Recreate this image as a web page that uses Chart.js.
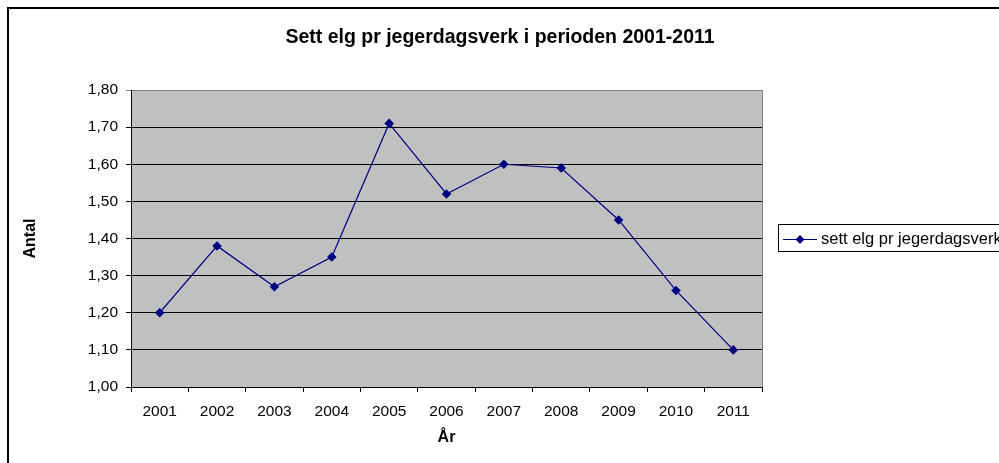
<!DOCTYPE html>
<html>
<head>
<meta charset="utf-8">
<script src="https://cdn.jsdelivr.net/npm/chart.js@4"></script>
<style>
html,body{margin:0;padding:0;background:#fff;}
#c{display:block;}
</style>
</head>
<body>
<canvas id="c" width="999" height="463"></canvas>
<script>
const categories = ['2001','2002','2003','2004','2005','2006','2007','2008','2009','2010','2011'];
const seriesLabel = 'sett elg pr jegerdagsverk';
const seriesValues = [1.20, 1.38, 1.27, 1.35, 1.71, 1.52, 1.60, 1.59, 1.45, 1.26, 1.10];
const chartTitle = 'Sett elg pr jegerdagsverk i perioden 2001-2011';
const xTitle = 'År';
const yTitle = 'Antal';
const yMin = 1.0, yMax = 1.8, yStep = 0.1;

const FONT = '"Liberation Sans", Arial, sans-serif';
const NAVY = '#000080';

const decor = {
  id: 'decor',
  beforeDraw(chart) {
    const {ctx, chartArea: a} = chart;
    ctx.save();
    ctx.fillStyle = '#fff';
    ctx.fillRect(0, 0, chart.width, chart.height);
    ctx.fillStyle = '#C0C0C0';
    ctx.fillRect(a.left, a.top, a.right - a.left, a.bottom - a.top);
    ctx.strokeStyle = '#000';
    ctx.lineWidth = 2;
    ctx.strokeRect(8, 8, chart.width + 20, chart.height + 20);
    ctx.fillStyle = '#000';
    ctx.font = 'bold 19.5px ' + FONT;
    ctx.textAlign = 'center';
    ctx.textBaseline = 'middle';
    ctx.fillText(chartTitle, 500, 38);
    ctx.restore();
  },
  afterDraw(chart) {
    const {ctx, chartArea: a} = chart;
    ctx.save();
    ctx.strokeStyle = '#808080';
    ctx.lineWidth = 1;
    ctx.beginPath();
    ctx.moveTo(Math.round(a.right) + 0.5, a.top);
    ctx.lineTo(Math.round(a.right) + 0.5, a.bottom);
    ctx.stroke();
    const lx = 778.5, ly = 224.5, lh = 27;
    ctx.strokeStyle = '#000';
    ctx.strokeRect(lx, ly, 300, lh);
    const cy = 239.5;
    ctx.strokeStyle = NAVY;
    ctx.beginPath();
    ctx.moveTo(783, cy);
    ctx.lineTo(817, cy);
    ctx.stroke();
    ctx.fillStyle = NAVY;
    ctx.beginPath();
    ctx.moveTo(800, cy - 4.5);
    ctx.lineTo(804.5, cy);
    ctx.lineTo(800, cy + 4.5);
    ctx.lineTo(795.5, cy);
    ctx.closePath();
    ctx.fill();
    ctx.fillStyle = '#000';
    ctx.font = '16.5px ' + FONT;
    ctx.textBaseline = 'middle';
    ctx.textAlign = 'left';
    ctx.fillText(chart.data.datasets[0].label, 821, cy);
    ctx.restore();
  }
};

new Chart(document.getElementById('c'), {
  type: 'line',
  data: {
    labels: categories,
    datasets: [{
      label: seriesLabel,
      data: seriesValues,
      borderColor: NAVY,
      backgroundColor: NAVY,
      borderWidth: 1.2,
      pointStyle: 'rectRot',
      pointRadius: 4.8,
      pointHoverRadius: 4.8,
      pointBorderWidth: 0,
      tension: 0
    }]
  },
  options: {
    responsive: false,
    animation: false,
    events: [],
    layout: { padding: { left: 0, right: 237, top: 90, bottom: 0 } },
    plugins: {
      legend: { display: false },
      tooltip: { enabled: false },
      title: { display: false }
    },
    scales: {
      x: {
        offset: true,
        afterFit(s) { s.height = 76; },
        grid: { display: true, drawOnChartArea: false, drawTicks: true, tickLength: 5, offset: true, color: '#000' },
        border: { display: true, color: '#000', width: 1 },
        ticks: { color: '#000', font: { family: FONT, size: 15.5 }, padding: 10, maxRotation: 0 },
        title: { display: true, text: xTitle, color: '#000', font: { family: FONT, size: 16, weight: 'bold', lineHeight: 1.2 }, padding: { top: 15.4, bottom: 15.4 } }
      },
      y: {
        min: yMin,
        max: yMax,
        afterFit(s) { s.width = 131; },
        grid: {
          color: (c) => (c.tick && Math.abs(c.tick.value - yMax) < 1e-6) ? '#808080' : '#000',
          tickLength: 5,
          lineWidth: 1
        },
        border: { display: true, color: '#000', width: 1 },
        ticks: {
          stepSize: yStep,
          color: '#000',
          font: { family: FONT, size: 15.5 },
          padding: 8,
          callback: (v) => Number(v).toFixed(2).replace('.', ',')
        },
        title: { display: true, text: yTitle, color: '#000', font: { family: FONT, size: 16, weight: 'bold', lineHeight: 1.2 }, padding: { top: 21, bottom: 21 } }
      }
    }
  },
  plugins: [decor]
});
</script>
</body>
</html>
